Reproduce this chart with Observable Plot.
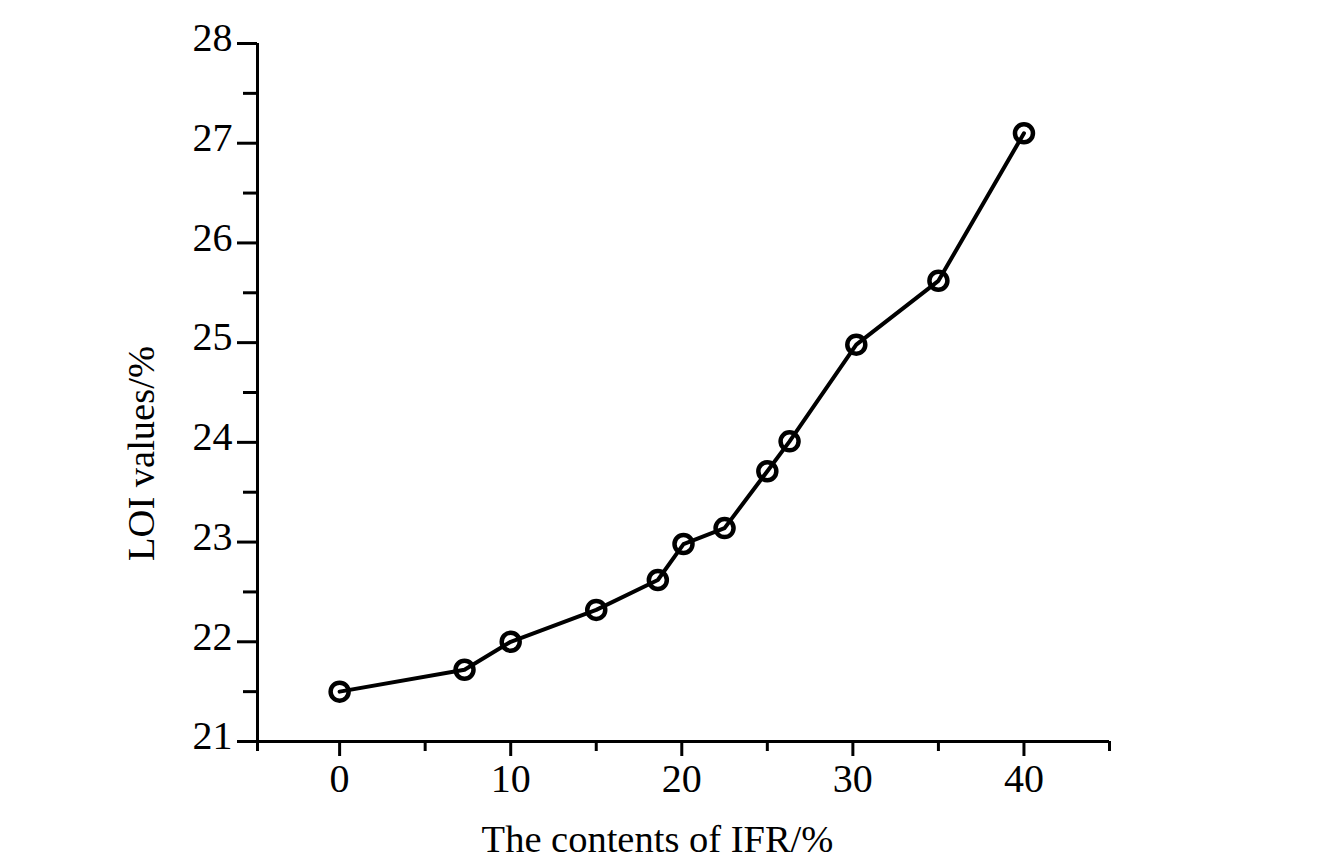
<!DOCTYPE html>
<html>
<head>
<meta charset="utf-8">
<script src="https://cdn.jsdelivr.net/npm/d3@7"></script>
<script src="https://cdn.jsdelivr.net/npm/@observablehq/plot@0.6"></script>
<style>
  html, body { margin: 0; padding: 0; background: #fff; }
</style>
</head>
<body>
<div id="chart"></div>
<script>
const ifrContent = [0, 7.3, 10, 15, 18.6, 20.1, 22.5, 25, 26.3, 30.2, 35, 40];
const loiValues = [21.5, 21.72, 22.0, 22.32, 22.62, 22.98, 23.14, 23.71, 24.01, 24.98, 25.62, 27.1];
const xMajorTicks = [0, 10, 20, 30, 40];
const xMinorTicks = [-4.8, 5, 15, 25, 35, 45];
const yMajorTicks = [21, 22, 23, 24, 25, 26, 27, 28];
const yMinorTicks = [21.5, 22.5, 23.5, 24.5, 25.5, 26.5, 27.5];
const xLabel = "The contents of IFR/%";
const yLabel = "LOI values/%";

const data = ifrContent.map((x, i) => ({x, y: loiValues[i]}));

const font = "'Liberation Serif', 'Times New Roman', serif";

const chart = Plot.plot({
  width: 1344,
  height: 858,
  marginLeft: 257,
  marginRight: 235,
  marginTop: 43,
  marginBottom: 117,
  style: {fontFamily: font, fontSize: "40px", background: "#fff", color: "#000"},
  x: {domain: [-4.8, 45]},
  y: {domain: [21, 28]},
  marks: [
    Plot.axisX({ticks: xMajorTicks, tickSize: 15, tickPadding: 7, strokeWidth: 3, fontSize: 40, label: null, tickFormat: d => String(d)}),
    Plot.axisX({ticks: xMinorTicks, tickSize: 10, strokeWidth: 3, tickFormat: () => "", label: null}),
    Plot.axisY({ticks: yMajorTicks, tickSize: 20, strokeWidth: 3, tickFormat: () => "", label: null}),
    Plot.axisY({ticks: yMajorTicks, tickSize: 0, tickPadding: 25, dy: -5, fontSize: 40, label: null, tickFormat: d => String(d)}),
    Plot.axisY({ticks: yMinorTicks, tickSize: 14, strokeWidth: 3, tickFormat: () => "", label: null}),
    Plot.ruleY([21], {strokeWidth: 3}),
    Plot.ruleX([-4.8], {strokeWidth: 3}),
    Plot.line(data, {x: "x", y: "y", stroke: "#000", strokeWidth: 4}),
    Plot.dot(data, {x: "x", y: "y", r: 9, stroke: "#000", strokeWidth: 4.5, fill: "none"}),
    Plot.text([xLabel], {frameAnchor: "bottom", text: d => d, dx: -26, dy: 110, lineAnchor: "bottom", textAnchor: "middle", fontSize: 38.5, fontFamily: font}),
    Plot.text([yLabel], {frameAnchor: "left", text: d => d, rotate: -90, dx: -104, dy: 61, lineAnchor: "bottom", textAnchor: "middle", fontSize: 38.5, fontFamily: font})
  ]
});
document.getElementById("chart").appendChild(chart);
</script>
</body>
</html>
